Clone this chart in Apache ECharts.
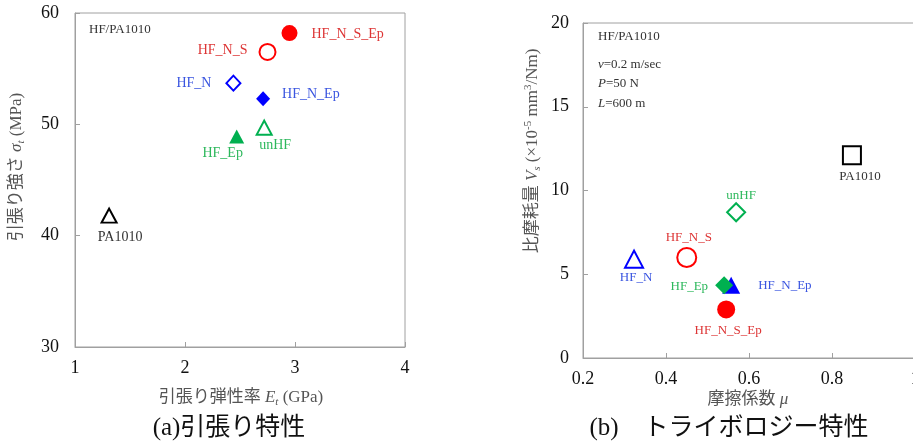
<!DOCTYPE html>
<html>
<head>
<meta charset="utf-8">
<script src="https://cdn.jsdelivr.net/npm/echarts@6/dist/echarts.min.js"></script>
<style>
  html, body { margin: 0; padding: 0; background: #fff; }
  #chart { width: 913px; height: 446px; }
</style>
</head>
<body>
<div id="chart"></div>
<script>
// 試料名
var samples = ['PA1010', 'unHF', 'HF_N', 'HF_N_Ep', 'HF_Ep', 'HF_N_S', 'HF_N_S_Ep'];
// (a) 引張り弾性率 Et (GPa) / 引張り強さ σt (MPa)
var tensileModulus = [1.31, 2.72, 2.44, 2.71, 2.47, 2.75, 2.95];
var tensileStrength = [41.8, 49.7, 53.7, 52.3, 48.9, 56.5, 58.2];
// (b) 摩擦係数 μ / 比摩耗量 Vs (×10^-5 mm3/Nm)
var frictionCoef = [0.848, 0.569, 0.323, 0.557, 0.540, 0.450, 0.545];
var wearRate = [12.1, 8.7, 5.9, 4.35, 4.35, 6.0, 2.9];

var serif = '"Liberation Serif", "DejaVu Serif", "Noto Sans CJK JP", serif';
var jp = '"Liberation Serif", "Noto Sans CJK JP", serif';

// マーカー色と文字色
var marker = {
  PA1010:    { color: '#000000', text: '#333333', filled: false },
  unHF:      { color: '#00b050', text: '#2db85c', filled: false },
  HF_N:      { color: '#0000ff', text: '#3a55e0', filled: false },
  HF_N_Ep:   { color: '#0000ff', text: '#3a55e0', filled: true },
  HF_Ep:     { color: '#00b050', text: '#2db85c', filled: true },
  HF_N_S:    { color: '#ff0000', text: '#dd3535', filled: false },
  HF_N_S_Ep: { color: '#ff0000', text: '#dd3535', filled: true }
};
var symA = { PA1010: ['triangle', [15, 14]], unHF: ['triangle', [15, 14]], HF_Ep: ['triangle', [15, 14]],
             HF_N: ['diamond', [14, 15]], HF_N_Ep: ['diamond', [14, 15]],
             HF_N_S: ['circle', 16], HF_N_S_Ep: ['circle', 16] };
var symB = { PA1010: ['rect', 18], unHF: ['diamond', [18, 18]], HF_Ep: ['diamond', [18, 18]],
             HF_N: ['triangle', [18, 17]], HF_N_Ep: ['triangle', [18, 17]],
             HF_N_S: ['circle', 19], HF_N_S_Ep: ['circle', 18] };
// ラベル位置
var labA = {
  PA1010: ['inside', 0, [11, 22]], unHF: ['inside', 0, [11, 18]], HF_Ep: ['inside', 0, [-14, 17]],
  HF_N: ['left', 14, [0, 0]], HF_N_Ep: ['right', 12, [0, -4]],
  HF_N_S: ['left', 11, [0, -2]], HF_N_S_Ep: ['right', 14, [0, 1]]
};
var labB = {
  PA1010: ['inside', 0, [8, 21]], unHF: ['inside', 0, [5, -17]], HF_N_S: ['inside', 0, [2, -20]],
  HF_N: ['inside', 0, [2, 18]], HF_Ep: ['left', 7, [0, 1]], HF_N_Ep: ['right', 18, [0, 0]],
  HF_N_S_Ep: ['inside', 0, [2, 21]]
};

function buildData(xs, ys, sym, lab, fs) {
  return samples.map(function (n, i) {
    var m = marker[n];
    return {
      name: n,
      value: [xs[i], ys[i]],
      symbol: sym[n][0],
      symbolSize: sym[n][1],
      itemStyle: {
        color: m.filled ? m.color : '#ffffff',
        borderColor: m.color,
        borderWidth: m.filled ? 0 : 2,
        opacity: 1
      },
      label: {
        show: true,
        formatter: n,
        position: lab[n][0],
        distance: lab[n][1],
        offset: lab[n][2],
        color: m.text,
        fontSize: fs,
        fontFamily: serif
      }
    };
  });
}

function axisBase(min, max, step) {
  return {
    min: min, max: max, interval: step,
    axisLine: { show: true, lineStyle: { color: '#a0a0a0', width: 1 } },
    axisTick: { show: true, inside: true, length: 5, lineStyle: { color: '#a0a0a0' } },
    axisLabel: { color: '#111', fontSize: 18, fontFamily: serif },
    splitLine: { show: false }
  };
}

var chart = echarts.init(document.getElementById('chart'));

var xa0 = axisBase(1, 4, 1); xa0.gridIndex = 0; xa0.axisLabel.margin = 12;
var ya0 = axisBase(30, 60, 10); ya0.gridIndex = 0; ya0.axisLabel.margin = 16;
var xa1 = axisBase(0.2, 1.0, 0.2); xa1.gridIndex = 1; xa1.axisLabel.margin = 12;
var ya1 = axisBase(0, 20, 5); ya1.gridIndex = 1; ya1.axisLabel.margin = 14;

function info(x, y, text, rich) {
  return { type: 'text', x: x, y: y, style: { text: text, rich: rich || {}, fontSize: 13, fontFamily: serif, fill: '#333', verticalAlign: 'middle' } };
}
var italic = { i: { fontStyle: 'italic', fontSize: 13, fontFamily: serif, fill: '#333' } };

var nameRich = {
  n: { fontSize: 17, fontFamily: jp, fill: '#555', lineHeight: 20 },
  i: { fontSize: 17, fontFamily: serif, fontStyle: 'italic', fill: '#555', lineHeight: 20 },
  s: { fontSize: 11, fontFamily: serif, fontStyle: 'italic', fill: '#555', verticalAlign: 'bottom', lineHeight: 20 },
  p: { fontSize: 11, fontFamily: serif, fill: '#555', verticalAlign: 'top', lineHeight: 20 }
};

chart.setOption({
  animation: false,
  backgroundColor: '#ffffff',
  grid: [
    { left: 75, top: 13, width: 330, height: 334, show: true, borderColor: '#a0a0a0', borderWidth: 1, outerBoundsMode: 'none' },
    { left: 583, top: 23, width: 332, height: 335, show: true, borderColor: '#a0a0a0', borderWidth: 1, outerBoundsMode: 'none' }
  ],
  xAxis: [xa0, xa1],
  yAxis: [ya0, ya1],
  series: [
    { type: 'scatter', xAxisIndex: 0, yAxisIndex: 0, data: buildData(tensileModulus, tensileStrength, symA, labA, 14) },
    { type: 'scatter', xAxisIndex: 1, yAxisIndex: 1, data: buildData(frictionCoef, wearRate, symB, labB, 13) }
  ],
  graphic: [
    info(89, 30, 'HF/PA1010'),
    info(598, 37, 'HF/PA1010'),
    info(598, 65, '{i|v}=0.2 m/sec', italic),
    info(598, 84, '{i|P}=50 N', italic),
    info(598, 104, '{i|L}=600 m', italic),
    {
      type: 'text', x: 17, y: 167, rotation: Math.PI / 2,
      style: { text: '{n|引張り強さ }{i|σ}{s|t}{n| (MPa)}', align: 'center', verticalAlign: 'middle', rich: nameRich }
    },
    {
      type: 'text', x: 241, y: 398,
      style: { text: '{n|引張り弾性率 }{i|E}{s|t}{n| (GPa)}', align: 'center', verticalAlign: 'middle', rich: nameRich }
    },
    {
      type: 'text', x: 533, y: 151, rotation: Math.PI / 2,
      style: { text: '{n|比摩耗量 }{i|V}{s|s}{n| (×10}{p|-5}{n| mm}{p|3}{n|/Nm)}', align: 'center', verticalAlign: 'middle', rich: nameRich }
    },
    {
      type: 'text', x: 748, y: 400,
      style: { text: '{n|摩擦係数 }{i|μ}', align: 'center', verticalAlign: 'middle', rich: nameRich }
    },
    {
      type: 'text', x: 229, y: 428,
      style: { text: '(a)引張り特性', align: 'center', verticalAlign: 'middle', fontSize: 25, fontFamily: jp, fill: '#111' }
    },
    {
      type: 'text', x: 729, y: 428,
      style: { text: '(b)　トライボロジー特性', align: 'center', verticalAlign: 'middle', fontSize: 25, fontFamily: jp, fill: '#111' }
    }
  ]
});
</script>
</body>
</html>
